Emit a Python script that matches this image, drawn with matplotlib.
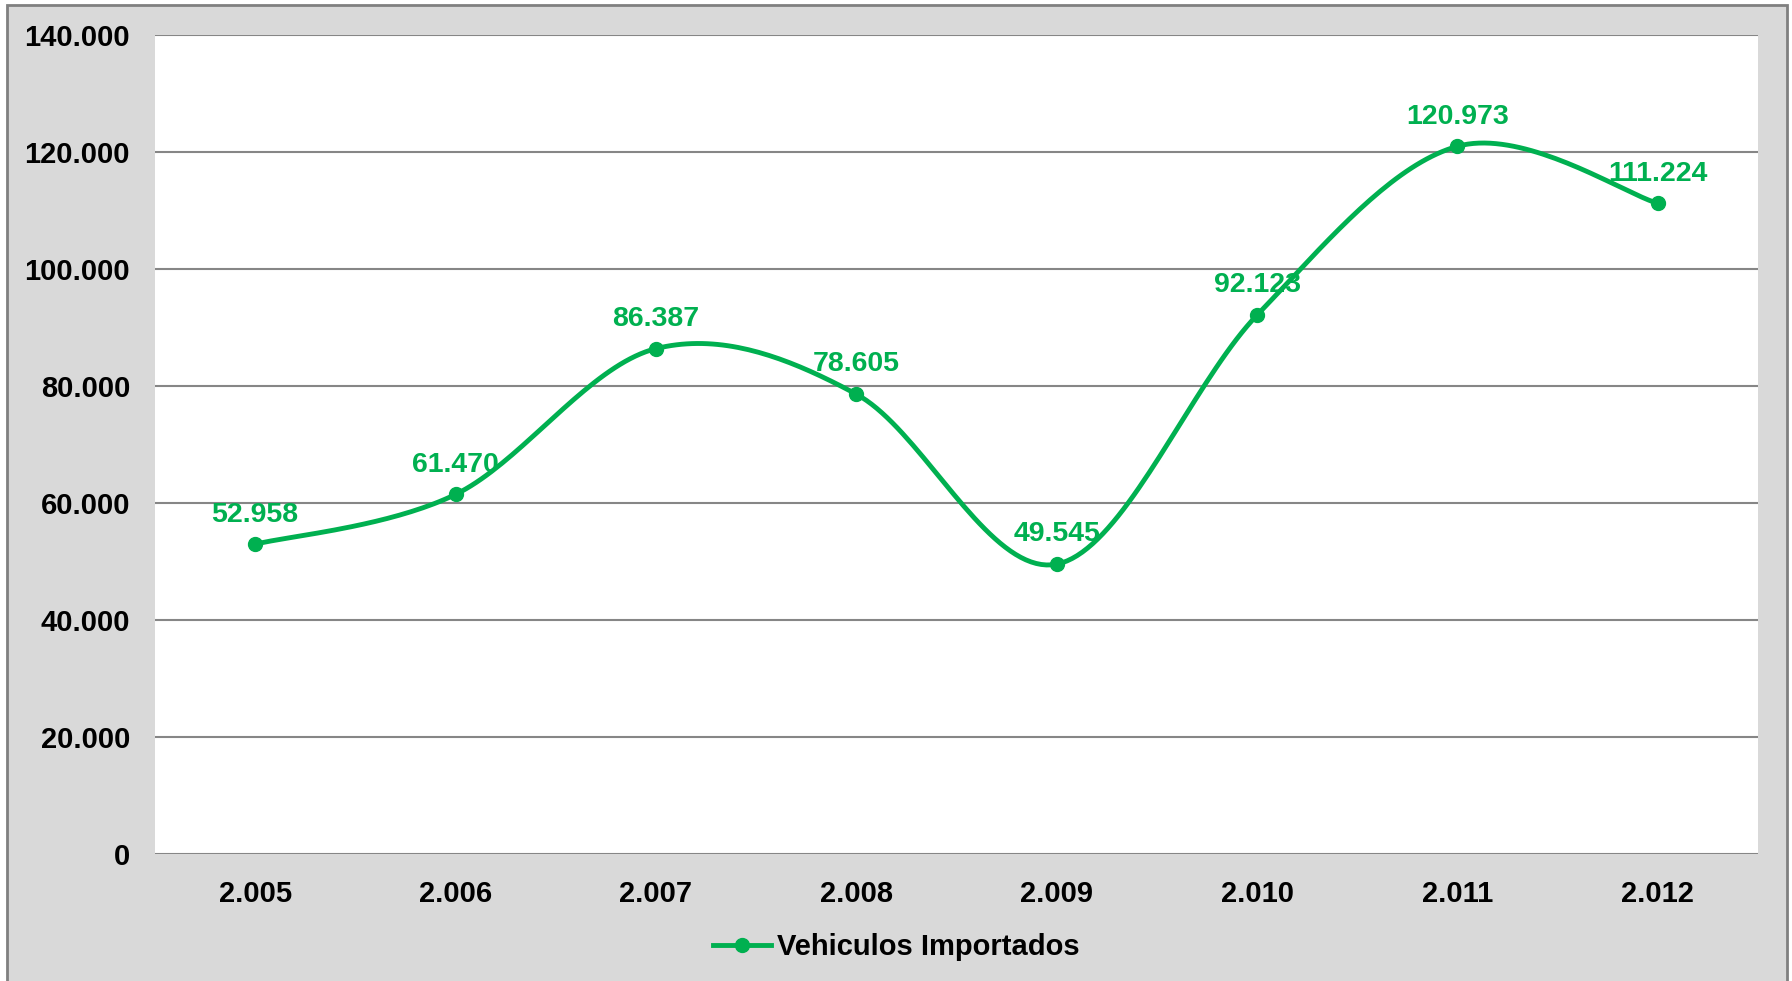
import numpy as np
import matplotlib.pyplot as plt
from matplotlib.patches import Rectangle
from matplotlib.ticker import FuncFormatter

years = ["2.005", "2.006", "2.007", "2.008", "2.009", "2.010", "2.011", "2.012"]
vehiculos = [52958, 61470, 86387, 78605, 49545, 92123, 120973, 111224]
series_name = "Vehiculos Importados"

GREEN = "#00B050"
plt.rcParams["font.family"] = ["Liberation Sans", "DejaVu Sans"]
plt.rcParams["font.weight"] = "bold"


def smooth_curve(x, y, steps=40):
    # Excel-style smoothed line (Catmull-Rom through the points)
    x = np.asarray(x, float)
    y = np.asarray(y, float)
    px = np.concatenate([[x[0]], x, [x[-1]]])
    py = np.concatenate([[y[0]], y, [y[-1]]])
    xs, ys = [], []
    t = np.linspace(0, 1, steps)
    for i in range(1, len(px) - 2):
        p0, p1, p2, p3 = (np.array([px[j], py[j]]) for j in (i - 1, i, i + 1, i + 2))
        c1 = p1 + (p2 - p0) / 6
        c2 = p2 - (p3 - p1) / 6
        b = ((1 - t) ** 3)[:, None] * p1 + (3 * (1 - t) ** 2 * t)[:, None] * c1 \
            + (3 * (1 - t) * t ** 2)[:, None] * c2 + (t ** 3)[:, None] * p2
        xs.extend(b[:, 0])
        ys.extend(b[:, 1])
    return np.array(xs), np.array(ys)


def fmt_thousands(v, _pos=None):
    return f"{int(round(v)):,}".replace(",", ".")


fig = plt.figure(figsize=(17.92, 9.81), dpi=100, facecolor="white")
fig.patches.append(Rectangle((7 / 1792, -0.05), (1787 - 7) / 1792, 1.05 - 5 / 981,
                             transform=fig.transFigure, facecolor="#D9D9D9",
                             edgecolor="#808080", linewidth=2, zorder=-10))

ax = fig.add_axes([155 / 1792, 1 - 854 / 981, (1758 - 155) / 1792, (854 - 35) / 981])
ax.set_facecolor("white")

x = np.arange(len(years))
sx, sy = smooth_curve(x, vehiculos)
ax.plot(sx, sy, color=GREEN, linewidth=3.5, solid_capstyle="round", zorder=3)
ax.plot(x, vehiculos, linestyle="none", marker="o", markersize=10, color=GREEN, zorder=4)

for xi, v in zip(x, vehiculos):
    ax.annotate(fmt_thousands(v), (xi, v), xytext=(0, 12), textcoords="offset points",
                ha="center", va="bottom", color=GREEN, fontsize=20.5, fontweight="bold",
                zorder=5)

ax.set_xlim(-0.5, len(years) - 0.5)
ax.set_ylim(0, 140000)
ax.set_yticks(np.arange(0, 140001, 20000))
ax.yaxis.set_major_formatter(FuncFormatter(fmt_thousands))
ax.set_xticks(x)
ax.set_xticklabels(years)
ax.grid(axis="y", color="#868686", linewidth=1.5, zorder=1)
ax.set_axisbelow(True)
for s in ax.spines.values():
    s.set_visible(False)
ax.tick_params(axis="both", length=0, labelsize=21, colors="black")
ax.tick_params(axis="y", pad=18)
ax.tick_params(axis="x", pad=19)

h, = ax.plot([], [], color=GREEN, linewidth=3.5, marker="o", markersize=10)
fig.legend([h], [series_name], loc="center", bbox_to_anchor=(0.5, 1 - 947 / 981),
           frameon=False, fontsize=21, handlelength=2.0, handletextpad=0.2)

fig.savefig("out.png", dpi=100, facecolor=fig.get_facecolor())
